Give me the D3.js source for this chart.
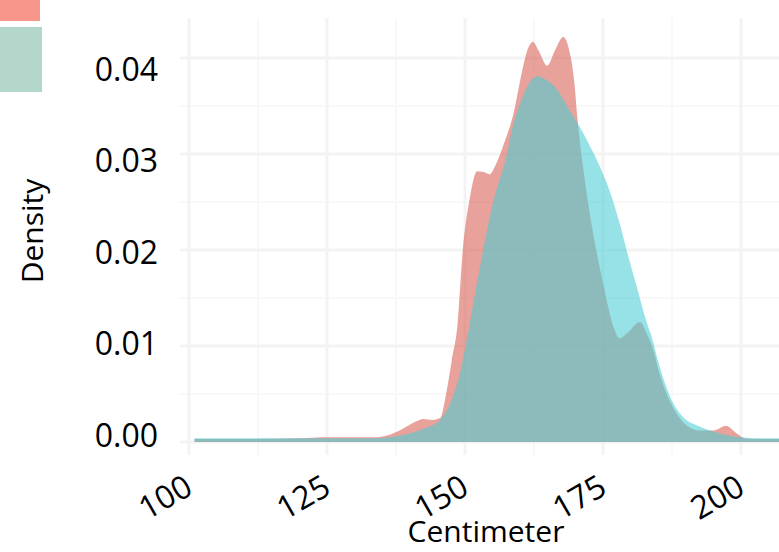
<!DOCTYPE html>
<html>
<head>
<meta charset="utf-8">
<script src="https://cdn.jsdelivr.net/npm/d3@7"></script>
<style>
  body { margin: 0; background: #fff; }
  svg { display: block; font-family: "Open Sans", sans-serif; }
</style>
</head>
<body>
<div id="chart"></div>
<script>
// density curves (cm, density)
const redCm = [101, 110, 120, 125, 130, 134, 136, 138.5, 141, 142.5, 144, 145.5, 146.7, 147.6, 148.6, 149.6,
  150.9, 152.2, 153.5, 154.5, 155.5, 157, 158.7, 160.3, 161.3, 162.3, 163.3, 164.9, 166.3, 167.8, 168.8,
  169.8, 170.4, 171.4, 173.2, 175, 176.8, 178, 179.5, 181.7, 183, 184, 185.3, 187.7, 190, 192.5, 195,
  197.3, 199, 200.7, 203, 207];
const redDensity = [0.0003, 0.0003, 0.0004, 0.0005, 0.0005, 0.0005, 0.0007, 0.0013, 0.0021, 0.0024, 0.0023,
  0.0025, 0.0054, 0.0085, 0.0120, 0.0200, 0.0255, 0.0282, 0.0281, 0.0279, 0.0288, 0.0310, 0.0340, 0.0385,
  0.0408, 0.0417, 0.0408, 0.0392, 0.0408, 0.0422, 0.0410, 0.0375, 0.0335, 0.0286, 0.0218, 0.0166, 0.0122,
  0.0108, 0.0114, 0.0125, 0.0112, 0.0098, 0.0070, 0.0036, 0.0018, 0.0012, 0.0012, 0.0017, 0.0010, 0.0004,
  0.0003, 0.0003];

const cyanCm = [101, 120, 130, 134, 136.4, 138.5, 140.6, 143, 145.5, 147.3, 149.1, 150.5, 152.7, 155.1, 157.6,
  158.5, 160.5, 162, 163.2, 164.5, 166.7, 168.5, 170.8, 172.5, 174.5, 176.3, 178, 179.5, 181.1, 182.9,
  184, 184.8, 186, 187.1, 189.5, 192.6, 195.6, 199.8, 203, 207];
const cyanDensity = [0.0004, 0.0004, 0.0004, 0.0004, 0.0005, 0.0007, 0.0010, 0.0015, 0.0023, 0.0040, 0.0072,
  0.0112, 0.0182, 0.0250, 0.0300, 0.0325, 0.0360, 0.0377, 0.0381, 0.0378, 0.0367, 0.0350, 0.0328, 0.0310,
  0.0286, 0.0260, 0.0228, 0.0195, 0.0162, 0.0125, 0.0106, 0.0088, 0.0065, 0.0048, 0.0026, 0.0016, 0.0010,
  0.0005, 0.0004, 0.0004];

const xTicks = [100, 125, 150, 175, 200];
const xMinor = [112.5, 137.5, 162.5, 187.5];
const yTicks = [0, 0.01, 0.02, 0.03, 0.04];
const yMinor = [0.005, 0.015, 0.025, 0.035];
const legendKeys = ["red", "cyan"];

const WIDTH = 779, HEIGHT = 552;
const PANEL = { LEFT: 180, RIGHT: 779, TOP: 18, BOTTOM: 455 };

const svg = d3.select("#chart").append("svg")
  .attr("width", WIDTH)
  .attr("height", HEIGHT);

const x = d3.scaleLinear().domain([100, 200]).range([189, 741]);
const y = d3.scaleLinear().domain([0, 0.04]).range([442, 58]);
// tick labels sit on a slightly different spacing in the picture
const yLab = d3.scaleLinear().domain([0, 0.04]).range([436, 70]);

// gridlines
const grid = svg.append("g");
grid.selectAll(".vminor").data(xMinor).join("line")
  .attr("x1", d => x(d)).attr("x2", d => x(d))
  .attr("y1", PANEL.TOP).attr("y2", PANEL.BOTTOM)
  .attr("stroke", "#f8f8f8").attr("stroke-width", 2);
grid.selectAll(".hminor").data(yMinor).join("line")
  .attr("x1", PANEL.LEFT).attr("x2", PANEL.RIGHT)
  .attr("y1", d => y(d)).attr("y2", d => y(d))
  .attr("stroke", "#f8f8f8").attr("stroke-width", 2);
grid.selectAll(".vmajor").data(xTicks).join("line")
  .attr("x1", d => x(d)).attr("x2", d => x(d))
  .attr("y1", PANEL.TOP).attr("y2", PANEL.BOTTOM)
  .attr("stroke", "#f3f3f3").attr("stroke-width", 3);
grid.selectAll(".hmajor").data(yTicks).join("line")
  .attr("x1", PANEL.LEFT).attr("x2", PANEL.RIGHT)
  .attr("y1", d => y(d)).attr("y2", d => y(d))
  .attr("stroke", "#f3f3f3").attr("stroke-width", 3);

// density areas
const area = d3.area()
  .x(d => x(d[0]))
  .y0(y(0))
  .y1(d => y(d[1]))
  .curve(d3.curveMonotoneX);

const redData = d3.zip(redCm, redDensity);
const cyanData = d3.zip(cyanCm, cyanDensity);

svg.append("path")
  .datum(redData)
  .attr("d", area)
  .attr("fill", "rgb(217,98,88)")
  .attr("fill-opacity", 0.6);

svg.append("path")
  .datum(cyanData)
  .attr("d", area)
  .attr("fill", "rgb(77,205,212)")
  .attr("fill-opacity", 0.585);

// y axis labels
const yAxis = svg.append("g")
  .attr("transform", "translate(170,0)")
  .call(d3.axisLeft(yLab).tickValues(yTicks).tickFormat(d3.format(".2f")).tickSize(0).tickPadding(12));
yAxis.select(".domain").remove();
yAxis.selectAll("text")
  .style("font-family", "'Open Sans', sans-serif")
  .style("font-size", "32px")
  .attr("fill", "#000");

// x axis labels, rotated
const xAxis = svg.append("g")
  .attr("transform", "translate(5,493)")
  .call(d3.axisBottom(x).tickValues(xTicks).tickSize(0).tickPadding(0));
xAxis.select(".domain").remove();
xAxis.selectAll("text")
  .style("font-family", "'Open Sans', sans-serif")
  .style("font-size", "32px")
  .attr("fill", "#000")
  .attr("y", 0)
  .attr("dy", 0)
  .attr("text-anchor", "end")
  .attr("transform", "rotate(-30)");

// axis titles
svg.append("text")
  .attr("x", 486)
  .attr("y", 542)
  .attr("text-anchor", "middle")
  .style("font-size", "30px")
  .text("Centimeter");

svg.append("text")
  .attr("transform", "translate(43,231) rotate(-90)")
  .attr("text-anchor", "middle")
  .style("font-size", "30px")
  .text("Density");

// legend keys (cropped at the top-left)
const legendColor = d3.scaleOrdinal().domain(legendKeys).range(["#f8968c", "#b3d8cb"]);
const legendBox = d3.scaleOrdinal().domain(legendKeys).range([[0, 0, 40, 21], [0, 27, 42, 65]]);
svg.selectAll(".key").data(legendKeys).join("rect")
  .attr("x", d => legendBox(d)[0])
  .attr("y", d => legendBox(d)[1])
  .attr("width", d => legendBox(d)[2])
  .attr("height", d => legendBox(d)[3])
  .attr("fill", d => legendColor(d));
</script>
</body>
</html>
